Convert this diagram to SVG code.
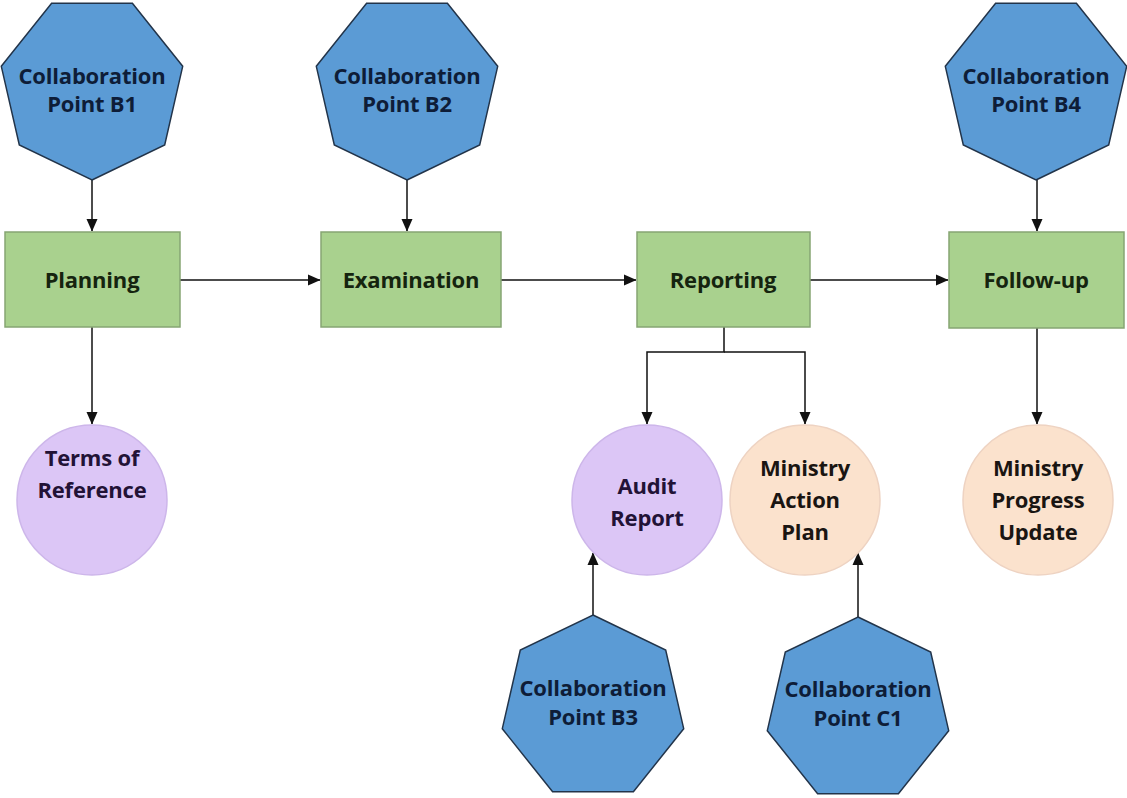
<svg xmlns="http://www.w3.org/2000/svg" width="1127" height="798" viewBox="0 0 1127 798">
  <style>
    .hept { fill: #5b9bd5; stroke: #22344a; stroke-width: 1.5; }
    .proc { fill: #a9d18e; stroke: #86a573; stroke-width: 1.5; }
    .doc  { fill: #dcc6f6; stroke: #cdb6ea; stroke-width: 1.5; }
    .mini { fill: #fbe2cd; stroke: #eed3c2; stroke-width: 1.5; }
    text { font-family: "Open Sans", Lato, "Liberation Sans", sans-serif; font-weight: bold; font-size: 22px; text-anchor: middle; letter-spacing: -0.2px; }
    .tb { fill: #0e1d38; }
    .tg { fill: #15240f; }
    .tp { fill: #221236; }
    .to { fill: #1a1512; }
    .conn { fill: none; stroke: #111; stroke-width: 1.5; }
  </style>
  <defs>
    <marker id="arr" markerUnits="userSpaceOnUse" markerWidth="13" markerHeight="13" viewBox="0 0 13 13" refX="12" refY="6.5" orient="auto">
      <path d="M0,1 L12.5,6.5 L0,12 Z" fill="#111"/>
    </marker>
  </defs>
  <rect width="1127" height="798" fill="#ffffff"/>

  <g id="connectors">
    <path class="conn" d="M92,180 V231" marker-end="url(#arr)"/>
    <path class="conn" d="M407,180 V231" marker-end="url(#arr)"/>
    <path class="conn" d="M1037,180 V231" marker-end="url(#arr)"/>
    <path class="conn" d="M180,280 H320" marker-end="url(#arr)"/>
    <path class="conn" d="M501,280 H636" marker-end="url(#arr)"/>
    <path class="conn" d="M810,280 H948" marker-end="url(#arr)"/>
    <path class="conn" d="M92,327 V424" marker-end="url(#arr)"/>
    <path class="conn" d="M724,327 V352 H647 V424" marker-end="url(#arr)"/>
    <path class="conn" d="M724,352 H805 V424" marker-end="url(#arr)"/>
    <path class="conn" d="M1037,328 V424" marker-end="url(#arr)"/>
    <path class="conn" d="M593,615 V553" marker-end="url(#arr)"/>
    <path class="conn" d="M858,617 V553" marker-end="url(#arr)"/>
  </g>

  <g id="cp-b1">
    <polygon class="hept" points="92,180 164.7,145 182.7,66.3 132.4,3.2 51.6,3.2 1.3,66.3 19.3,145"/>
    <text class="tb" x="92" y="84">Collaboration</text>
    <text class="tb" x="92" y="112">Point B1</text>
  </g>
  <g id="cp-b2">
    <polygon class="hept" points="407,180 479.7,145 497.7,66.3 447.4,3.2 366.6,3.2 316.3,66.3 334.3,145"/>
    <text class="tb" x="407" y="84">Collaboration</text>
    <text class="tb" x="407" y="112">Point B2</text>
  </g>
  <g id="cp-b4">
    <polygon class="hept" points="1036,180 1108.7,145 1126.7,66.3 1076.4,3.2 995.6,3.2 945.3,66.3 963.3,145"/>
    <text class="tb" x="1036" y="84">Collaboration</text>
    <text class="tb" x="1036" y="112">Point B4</text>
  </g>

  <g id="planning">
    <rect class="proc" x="5" y="232" width="175" height="95"/>
    <text class="tg" x="92" y="288">Planning</text>
  </g>
  <g id="examination">
    <rect class="proc" x="321" y="232" width="180" height="95"/>
    <text class="tg" x="411" y="288">Examination</text>
  </g>
  <g id="reporting">
    <rect class="proc" x="637" y="232" width="173" height="95"/>
    <text class="tg" x="723" y="288">Reporting</text>
  </g>
  <g id="follow-up">
    <rect class="proc" x="949" y="232" width="175" height="96"/>
    <text class="tg" x="1036" y="288">Follow-up</text>
  </g>

  <g id="terms-of-reference">
    <circle class="doc" cx="92" cy="500" r="75"/>
    <text class="tp" x="92" y="466">Terms of</text>
    <text class="tp" x="92" y="498">Reference</text>
  </g>
  <g id="audit-report">
    <circle class="doc" cx="647" cy="500" r="75"/>
    <text class="tp" x="647" y="494">Audit</text>
    <text class="tp" x="647" y="526">Report</text>
  </g>
  <g id="ministry-action-plan">
    <circle class="mini" cx="805" cy="500" r="75"/>
    <text class="to" x="805" y="476">Ministry</text>
    <text class="to" x="805" y="508">Action</text>
    <text class="to" x="805" y="540">Plan</text>
  </g>
  <g id="ministry-progress-update">
    <circle class="mini" cx="1038" cy="500" r="75"/>
    <text class="to" x="1038" y="476">Ministry</text>
    <text class="to" x="1038" y="508">Progress</text>
    <text class="to" x="1038" y="540">Update</text>
  </g>

  <g id="cp-b3">
    <polygon class="hept" points="593,615 665.7,650 683.7,728.7 633.4,791.8 552.6,791.8 502.3,728.7 520.3,650"/>
    <text class="tb" x="593" y="696">Collaboration</text>
    <text class="tb" x="593" y="725">Point B3</text>
  </g>
  <g id="cp-c1">
    <polygon class="hept" points="858,617 930.7,652 948.7,730.7 898.4,793.8 817.6,793.8 767.3,730.7 785.3,652"/>
    <text class="tb" x="858" y="697">Collaboration</text>
    <text class="tb" x="858" y="726">Point C1</text>
  </g>
</svg>
